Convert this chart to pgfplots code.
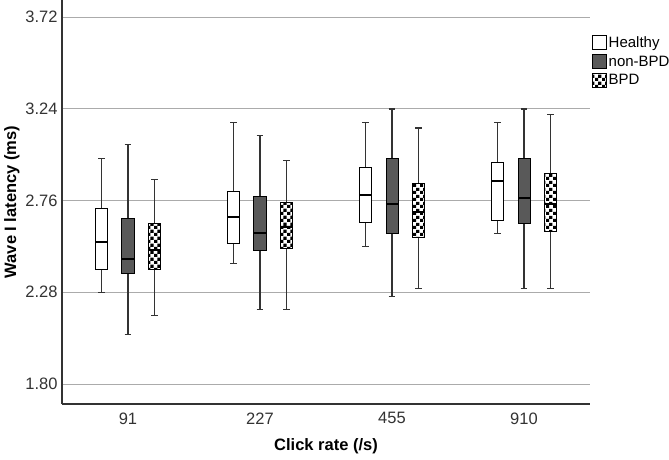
\documentclass[border=0pt]{standalone}
\usepackage{pgfplots}
\pgfplotsset{compat=1.18}
\usepgfplotslibrary{statistics}
\usetikzlibrary{patterns}
\usepackage{fontspec}
\setmainfont{Liberation Sans}
\definecolor{darkbox}{HTML}{595959}
\definecolor{gridgray}{HTML}{ABABAB}
\definecolor{axisgray}{HTML}{333333}
\pgfdeclarepatternformonly{mychecker}{\pgfpointorigin}{\pgfqpoint{7bp}{7bp}}{\pgfqpoint{7bp}{7bp}}{%
  \pgfpathrectangle{\pgfpointorigin}{\pgfqpoint{3.5bp}{3.5bp}}%
  \pgfpathrectangle{\pgfqpoint{3.5bp}{3.5bp}}{\pgfqpoint{3.5bp}{3.5bp}}%
  \pgfusepath{fill}}
\begin{document}
\begin{tikzpicture}
\begin{axis}[
  scale only axis,
  width=528bp, height=404bp,
  xmin=-0.5, xmax=3.5,
  ymin=1.695, ymax=3.81,
  axis x line*=bottom, axis y line*=left,
  axis line style={axisgray, line width=1.3pt, -},
  xtick={0,1,2,3}, xticklabels={91,227,455,910},
  ytick={1.80,2.28,2.76,3.24,3.72},
  yticklabel style={/pgf/number format/fixed, /pgf/number format/fixed zerofill, /pgf/number format/precision=2},
  /pgf/number format/assume math mode=true,
  major tick length=0pt,
  ymajorgrids,
  grid style={gridgray, line width=0.9pt},
  tick label style={font=\fontsize{16.5bp}{19bp}\selectfont, text=axisgray},
  xticklabel style={yshift=-5bp},
  yticklabel style={xshift=-1bp},
  xlabel={\textbf{Click rate (/s)}},
  ylabel={\textbf{Wave I latency (ms)}},
  label style={font=\fontsize{16.5bp}{19bp}\selectfont},
  xlabel style={yshift=-7bp},
  ylabel style={yshift=-1bp},
  boxplot/draw direction=y,
  boxplot/box extend=0.091,
  boxplot/whisker extend=0.05,
  boxplot/every whisker/.style={axisgray, line width=1.4pt},
  boxplot/every median/.style={black, line width=1.8pt},
  boxplot/every box/.style={black, line width=1pt},
  legend style={at={(1,0.92)}, anchor=north west, draw=none, fill=none,
    font=\fontsize{15bp}{18bp}\selectfont, row sep=3bp,
    inner xsep=0pt, xshift=2bp, nodes={inner xsep=1.5bp}},
  legend cell align=left,
  legend image code/.code={\draw[#1] (0bp,-7bp) rectangle (14bp,7bp);},
]
\addlegendimage{draw=black, fill=white, line width=1pt}
\addlegendimage{draw=black, fill=darkbox, line width=1pt}
\addlegendimage{draw=black, fill=white, line width=1pt, postaction={pattern=mychecker}}
\legend{Healthy, non-BPD, BPD}

% Healthy
\addplot[boxplot prepared={draw position=-0.2, lower whisker=2.28, lower quartile=2.399, median=2.542, upper quartile=2.717, upper whisker=2.98},
  boxplot/every box/.style={draw=black, fill=white, line width=1pt}] coordinates {};
\addplot[boxplot prepared={draw position=0.8, lower whisker=2.43, lower quartile=2.536, median=2.673, upper quartile=2.805, upper whisker=3.17},
  boxplot/every box/.style={draw=black, fill=white, line width=1pt}] coordinates {};
\addplot[boxplot prepared={draw position=1.8, lower whisker=2.521, lower quartile=2.645, median=2.788, upper quartile=2.931, upper whisker=3.17},
  boxplot/every box/.style={draw=black, fill=white, line width=1pt}] coordinates {};
\addplot[boxplot prepared={draw position=2.8, lower whisker=2.589, lower quartile=2.654, median=2.863, upper quartile=2.957, upper whisker=3.17},
  boxplot/every box/.style={draw=black, fill=white, line width=1pt}] coordinates {};

% non-BPD
\addplot[boxplot prepared={draw position=0, lower whisker=2.058, lower quartile=2.379, median=2.453, upper quartile=2.666, upper whisker=3.052},
  boxplot/every box/.style={draw=black, fill=darkbox, line width=1pt}] coordinates {};
\addplot[boxplot prepared={draw position=1, lower whisker=2.189, lower quartile=2.498, median=2.592, upper quartile=2.779, upper whisker=3.102},
  boxplot/every box/.style={draw=black, fill=darkbox, line width=1pt}] coordinates {};
\addplot[boxplot prepared={draw position=2, lower whisker=2.259, lower quartile=2.589, median=2.743, upper quartile=2.98, upper whisker=3.24},
  boxplot/every box/.style={draw=black, fill=darkbox, line width=1pt}] coordinates {};
\addplot[boxplot prepared={draw position=3, lower whisker=2.299, lower quartile=2.638, median=2.772, upper quartile=2.98, upper whisker=3.24},
  boxplot/every box/.style={draw=black, fill=darkbox, line width=1pt}] coordinates {};

% BPD
\addplot[boxplot prepared={draw position=0.2, lower whisker=2.158, lower quartile=2.397, median=2.50, upper quartile=2.64, upper whisker=2.87},
  boxplot/every box/.style={draw=black, fill=white, line width=1pt, postaction={pattern=mychecker}}] coordinates {};
\addplot[boxplot prepared={draw position=1.2, lower whisker=2.189, lower quartile=2.509, median=2.62, upper quartile=2.748, upper whisker=2.969},
  boxplot/every box/.style={draw=black, fill=white, line width=1pt, postaction={pattern=mychecker}}] coordinates {};
\addplot[boxplot prepared={draw position=2.2, lower whisker=2.299, lower quartile=2.568, median=2.70, upper quartile=2.851, upper whisker=3.139},
  boxplot/every box/.style={draw=black, fill=white, line width=1pt, postaction={pattern=mychecker}}] coordinates {};
\addplot[boxplot prepared={draw position=3.2, lower whisker=2.299, lower quartile=2.598, median=2.74, upper quartile=2.901, upper whisker=3.21},
  boxplot/every box/.style={draw=black, fill=white, line width=1pt, postaction={pattern=mychecker}}] coordinates {};
\end{axis}
\path (current axis.south west) ++(-62bp,-55bp) coordinate (bbA);
\path (current axis.north east) ++(79bp,0bp) coordinate (bbB);
\pgfresetboundingbox
\path[use as bounding box] (bbA) rectangle (bbB);
\end{tikzpicture}
\end{document}
